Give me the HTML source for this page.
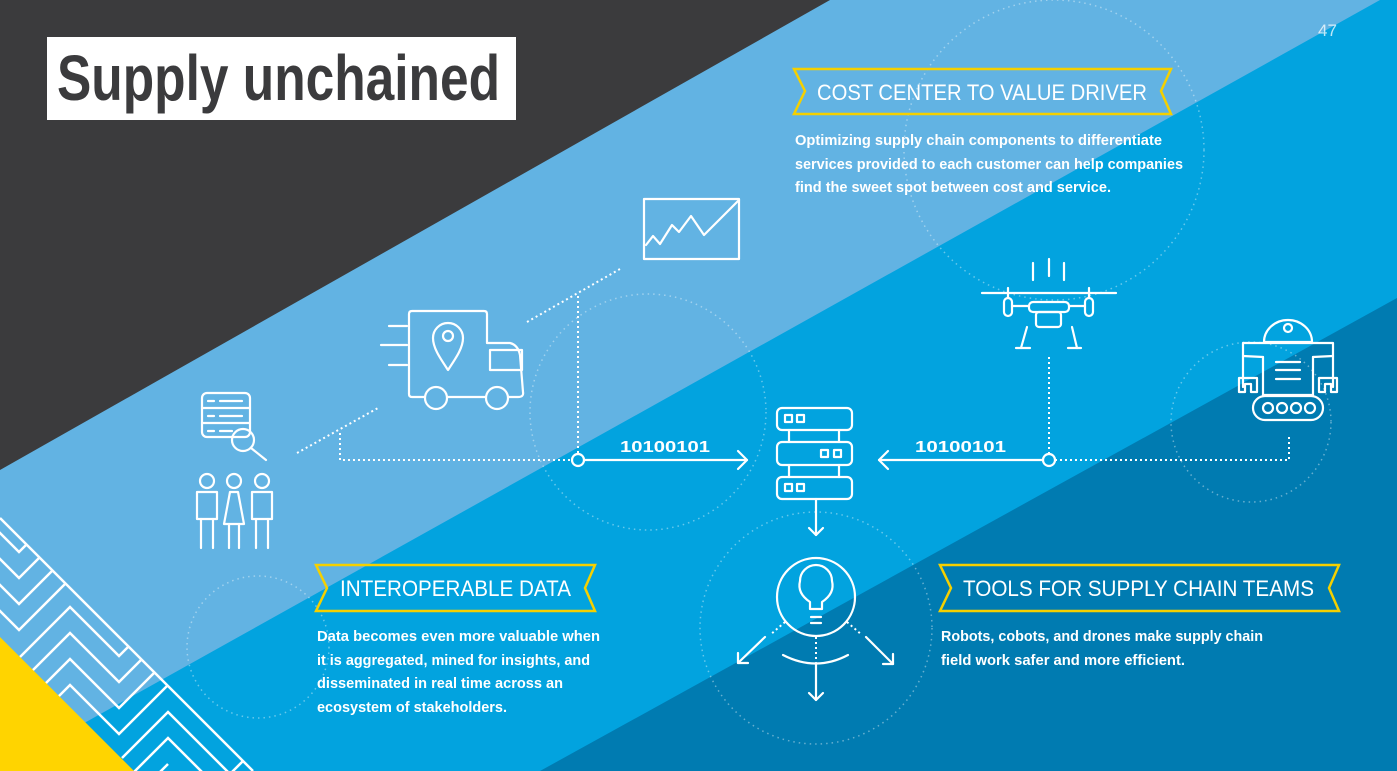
<!DOCTYPE html>
<html><head><meta charset="utf-8"><style>html,body{margin:0;padding:0;width:1397px;height:771px;overflow:hidden}svg{display:block;overflow:hidden}</style></head><body>
<svg width="1397" height="771" viewBox="0 0 1397 771" xmlns="http://www.w3.org/2000/svg" font-family="'Liberation Sans', sans-serif">
<defs><clipPath id="cc"><polygon points="0,518 253,771 0,771"/></clipPath></defs>
<rect width="1397" height="771" fill="#02a3df"/>
<polygon points="0,0 1380,0 0,770" fill="#62b3e3"/>
<polygon points="0,0 830,0 0,470" fill="#3b3b3d"/>
<polygon points="1397,298 1397,771 540,771" fill="#007bb1"/>

<g fill="none" stroke="rgba(255,255,255,0.4)" stroke-width="1.5" stroke-dasharray="1.5 4">
<circle cx="1054" cy="150" r="150"/>
<circle cx="648" cy="412" r="118"/>
<circle cx="816" cy="628" r="116"/>
<circle cx="1251" cy="422" r="80"/>
<circle cx="258" cy="647" r="71"/>
</g>

<g fill="none" stroke="#fff" stroke-width="2.5">
<g clip-path="url(#cc)">
<polyline points="-20,513 19,552 100,471"/>
<polyline points="-20,539 19,578 100,497"/>
<polyline points="-20,565 19,604 100,523"/>
<polyline points="-20,591 19,630 100,549"/>
<polyline points="20,657 70,607 119,656 200,575"/>
<polyline points="20,683 70,633 119,682 200,601"/>
<polyline points="20,709 70,659 119,708 200,627"/>
<polyline points="20,735 70,685 119,734 200,653"/>
<polyline points="122,758 168,712 230,774 300,704"/>
<polyline points="122,784 168,738 230,800"/>
<polyline points="122,810 168,764"/>
</g>
<line x1="0" y1="518" x2="253" y2="771"/>
</g>
<polygon points="0,637 0,771 134,771" fill="#ffd400"/>

<rect x="47" y="37" width="469" height="83" fill="#fff"/>
<text x="57" y="100" font-size="64" font-weight="bold" fill="#3b3b3d" font-family="'Liberation Sans Narrow','Liberation Sans',sans-serif" textLength="443" lengthAdjust="spacingAndGlyphs">Supply unchained</text>
<text x="1318" y="36" font-size="17" fill="rgba(255,255,255,0.75)">47</text>

<g fill="none" stroke="#f5d000" stroke-width="2.5">
<polygon points="794,69 1171,69 1161,91 1171,114 794,114 805,91"/>
<polygon points="316,565 595,565 585,588 595,611 316,611 327,588"/>
<polygon points="940,565 1339,565 1329,588 1339,611 940,611 951,588"/>
</g>
<g fill="#fff" font-size="22">
<text x="817" y="100" textLength="330" lengthAdjust="spacingAndGlyphs">COST CENTER TO VALUE DRIVER</text>
<text x="340" y="596" textLength="231" lengthAdjust="spacingAndGlyphs">INTEROPERABLE DATA</text>
<text x="963" y="596" textLength="351" lengthAdjust="spacingAndGlyphs">TOOLS FOR SUPPLY CHAIN TEAMS</text>
</g>
<g fill="#fff" font-size="14.5" font-weight="600">
<text x="795" y="145" textLength="367" lengthAdjust="spacingAndGlyphs">Optimizing supply chain components to differentiate</text>
<text x="795" y="169" textLength="388" lengthAdjust="spacingAndGlyphs">services provided to each customer can help companies</text>
<text x="795" y="192" textLength="316" lengthAdjust="spacingAndGlyphs">find the sweet spot between cost and service.</text>
<text x="317" y="641" textLength="283" lengthAdjust="spacingAndGlyphs">Data becomes even more valuable when</text>
<text x="317" y="665" textLength="273" lengthAdjust="spacingAndGlyphs">it is aggregated, mined for insights, and</text>
<text x="317" y="688" textLength="246" lengthAdjust="spacingAndGlyphs">disseminated in real time across an</text>
<text x="317" y="712" textLength="190" lengthAdjust="spacingAndGlyphs">ecosystem of stakeholders.</text>
<text x="941" y="641" textLength="322" lengthAdjust="spacingAndGlyphs">Robots, cobots, and drones make supply chain</text>
<text x="941" y="665" textLength="244" lengthAdjust="spacingAndGlyphs">field work safer and more efficient.</text>
<text x="620" y="452" font-size="16" font-weight="bold" textLength="90" lengthAdjust="spacingAndGlyphs">10100101</text>
<text x="915" y="452" font-size="16" font-weight="bold" textLength="91" lengthAdjust="spacingAndGlyphs">10100101</text>
</g>

<g fill="none" stroke="#fff" stroke-width="2" stroke-dasharray="2 3">
<line x1="297" y1="453" x2="378" y2="408"/>
<polyline points="340,433 340,460 572,460"/>
<line x1="527" y1="322" x2="620" y2="269"/>
<line x1="578" y1="296" x2="578" y2="454"/>
<line x1="1049" y1="357" x2="1049" y2="454"/>
<polyline points="1055,460 1289,460 1289,435"/>
<line x1="816" y1="637" x2="816" y2="660"/>
<line x1="785" y1="622" x2="770" y2="635"/>
<line x1="847" y1="622" x2="862" y2="635"/>
</g>

<g fill="none" stroke="#fff" stroke-width="2.2" stroke-linecap="round" stroke-linejoin="round">
<circle cx="578" cy="460" r="6"/>
<line x1="584" y1="460" x2="747" y2="460"/>
<polyline points="738,451 747,460 738,469"/>
<circle cx="1049" cy="460" r="6"/>
<line x1="1043" y1="460" x2="879" y2="460"/>
<polyline points="888,451 879,460 888,469"/>
<rect x="644" y="199" width="95" height="60"/>
<polyline points="646,245 653,236 660,244 672,225 679,232 691,216 704,235 739,200"/>
<path d="M425,397 L412,397 Q409,397 409,394 L409,314 Q409,311 412,311 L484,311 Q487,311 487,314 L487,343 L510,343 Q518,345 520,355 L523,392 Q524,397 518,397 L509,397"/>
<line x1="447" y1="397" x2="486" y2="397"/>
<circle cx="436" cy="398" r="11"/><circle cx="497" cy="398" r="11"/>
<rect x="490" y="350" width="32" height="20"/>
<line x1="389" y1="326" x2="407" y2="326"/><line x1="381" y1="345" x2="407" y2="345"/><line x1="389" y1="365" x2="407" y2="365"/>
<path d="M448,370 C440,358 433,348 433,338 A15,15 0 0 1 463,338 C463,348 456,358 448,370 Z"/>
<circle cx="448" cy="336" r="5"/>
<rect x="202" y="393" width="48" height="44" rx="5"/>
<line x1="202" y1="408" x2="250" y2="408"/><line x1="202" y1="423" x2="250" y2="423"/>
<line x1="208" y1="401" x2="214" y2="401"/><line x1="220" y1="401" x2="242" y2="401"/>
<line x1="208" y1="416" x2="214" y2="416"/><line x1="220" y1="416" x2="242" y2="416"/>
<line x1="208" y1="431" x2="214" y2="431"/><line x1="220" y1="431" x2="232" y2="431"/>
<circle cx="243" cy="440" r="11"/><line x1="251" y1="448" x2="266" y2="460"/>
<circle cx="207" cy="481" r="7"/><circle cx="234" cy="481" r="7"/><circle cx="262" cy="481" r="7"/>
<rect x="197" y="492" width="20" height="27"/><rect x="252" y="492" width="20" height="27"/>
<polygon points="230,492 238,492 244,524 224,524"/>
<line x1="201" y1="519" x2="201" y2="548"/><line x1="213" y1="519" x2="213" y2="548"/>
<line x1="256" y1="519" x2="256" y2="548"/><line x1="268" y1="519" x2="268" y2="548"/>
<line x1="229" y1="524" x2="229" y2="548"/><line x1="239" y1="524" x2="239" y2="548"/>
<rect x="777" y="408" width="75" height="22" rx="5"/>
<rect x="777" y="442" width="75" height="23" rx="5"/>
<rect x="777" y="477" width="75" height="22" rx="5"/>
<line x1="789" y1="430" x2="789" y2="442"/><line x1="839" y1="430" x2="839" y2="442"/>
<line x1="789" y1="465" x2="789" y2="477"/><line x1="839" y1="465" x2="839" y2="477"/>
<rect x="785" y="415" width="7" height="7"/><rect x="797" y="415" width="7" height="7"/>
<rect x="821" y="450" width="7" height="7"/><rect x="834" y="450" width="7" height="7"/>
<rect x="785" y="484" width="7" height="7"/><rect x="797" y="484" width="7" height="7"/>
<line x1="816" y1="499" x2="816" y2="535"/><polyline points="809,528 816,535 823,528"/>
<circle cx="816" cy="597" r="39"/>
<path d="M810,609 L810,602 C801,596 798,589 800,581 A16,16 0 0 1 832,581 C834,589 831,596 822,602 L822,609 Z"/>
<line x1="811" y1="617" x2="821" y2="617"/><line x1="811" y1="623" x2="821" y2="623"/>
<path d="M783,655 Q816,672 848,655"/>
<line x1="816" y1="663" x2="816" y2="700"/><polyline points="809,693 816,700 823,693"/>
<line x1="765" y1="637" x2="738" y2="663"/><polyline points="738,653 738,663 748,663"/>
<line x1="866" y1="637" x2="893" y2="664"/><polyline points="893,654 893,664 883,664"/>
<line x1="1033" y1="263" x2="1033" y2="280"/><line x1="1049" y1="259" x2="1049" y2="276"/><line x1="1064" y1="263" x2="1064" y2="280"/>
<line x1="982" y1="293" x2="1116" y2="293"/>
<line x1="1008" y1="288" x2="1008" y2="298"/><line x1="1089" y1="288" x2="1089" y2="298"/>
<rect x="1004" y="298" width="8" height="18" rx="4"/><rect x="1085" y="298" width="8" height="18" rx="4"/>
<line x1="1012" y1="306" x2="1029" y2="306"/><line x1="1069" y1="306" x2="1085" y2="306"/>
<rect x="1029" y="302" width="40" height="10" rx="4"/>
<rect x="1036" y="312" width="25" height="15" rx="3"/>
<line x1="1027" y1="327" x2="1021" y2="348"/><line x1="1072" y1="327" x2="1077" y2="348"/>
<line x1="1016" y1="348" x2="1030" y2="348"/><line x1="1068" y1="348" x2="1081" y2="348"/>
<path d="M1264,342 A24,22 0 0 1 1312,342 Z"/>
<circle cx="1288" cy="328" r="4"/>
<path d="M1243,343 L1333,343 L1333,387 M1243,343 L1243,387"/>
<path d="M1263,357 L1263,395 L1313,395 L1313,357"/>
<path d="M1243,356 L1263,357 M1333,356 L1313,357"/>
<path d="M1239,378 L1239,392 L1245,392 L1245,384 L1251,384 L1251,392 L1257,392 L1257,378 Z"/>
<path d="M1319,378 L1319,392 L1325,392 L1325,384 L1331,384 L1331,392 L1337,392 L1337,378 Z"/>
<line x1="1276" y1="362" x2="1300" y2="362"/><line x1="1276" y1="370" x2="1300" y2="370"/><line x1="1276" y1="379" x2="1300" y2="379"/>
<rect x="1253" y="396" width="70" height="24" rx="12"/>
<circle cx="1268" cy="408" r="5"/><circle cx="1282" cy="408" r="5"/><circle cx="1296" cy="408" r="5"/><circle cx="1310" cy="408" r="5"/>
</g>
</svg>
</body></html>
